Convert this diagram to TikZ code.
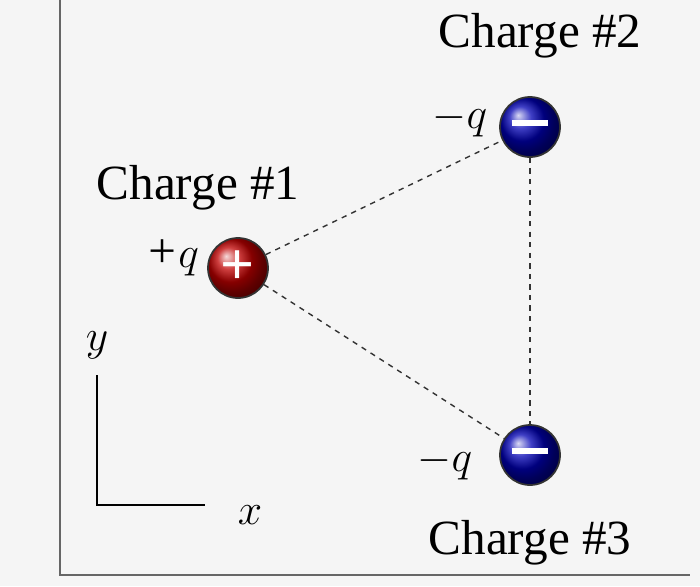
\documentclass[tikz,border=0pt]{standalone}
\usepackage{fontspec}
\setmainfont{Liberation Serif}
\begin{document}
\begin{tikzpicture}[x=0.02cm,y=-0.02cm,
 lbl/.style={font=\fontsize{28}{32}\selectfont},
 ql/.style={font=\fontsize{28}{32}\selectfont\itshape},
 chg/.style={circle,minimum size=1.2cm,inner sep=0pt,draw=black!80,line width=1pt,text=white,font=\fontsize{34}{34}\selectfont\bfseries},
 dsh/.style={dashed,line width=0.8pt,black!80}]
\fill[gray!8] (0,0) rectangle (700,586);
\useasboundingbox (0,0) rectangle (700,586);
\draw[line width=1pt,black!60] (60,-5) -- (60,575) -- (690,575);
\node[chg,ball color=red!75!black] (c1) at (238,268) {+};
\node[chg,ball color=blue!70!black] (c2) at (530,127) {\rule[0.3ex]{0.6em}{3pt}};
\node[chg,ball color=blue!70!black] (c3) at (530,455) {\rule[0.3ex]{0.6em}{3pt}};
\draw[dsh] (c1) -- (c2);
\draw[dsh] (c1) -- (c3);
\draw[dsh] (c2) -- (c3);
\node[lbl] (l2) at (540,36) {Charge \#2};
\node[lbl] (l1) at (198,188) {Charge \#1};
\node[lbl] (l3) at (530,543) {Charge \#3};
\node[ql] (q1) at (172,258) {+$q$};
\node[ql] (q2) at (460,120) {$-q$};
\node[ql] (q3) at (445,463) {$-q$};
\coordinate (o) at (97,505);
\coordinate (ye) at (97,375);
\coordinate (xe) at (205,505);
\draw[line width=1pt] (ye) -- (o) -- (xe);
\node[ql] (yl) at (97,345) {$y$};
\node[ql] (xl) at (250,515) {$x$};
\end{tikzpicture}
\end{document}
